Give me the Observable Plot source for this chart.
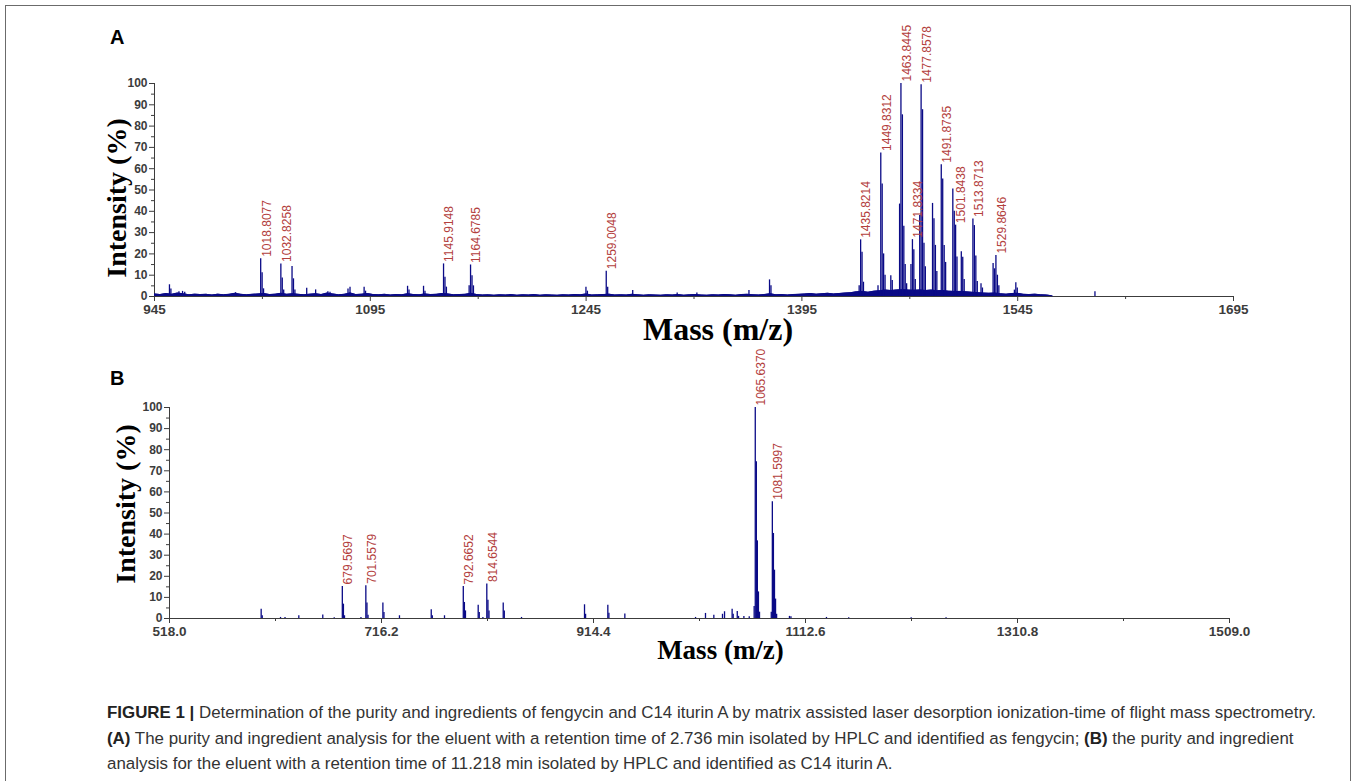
<!DOCTYPE html>
<html>
<head>
<meta charset="utf-8">
<script src="https://cdn.jsdelivr.net/npm/d3@7"></script>
<script src="https://cdn.jsdelivr.net/npm/@observablehq/plot@0.6"></script>
<style>
  html, body { margin: 0; padding: 0; background: #fff; }
  body { width: 1357px; height: 781px; overflow: hidden; position: relative; font-family: "Liberation Sans", Arial, sans-serif; }
  #frame { position: absolute; left: 5px; top: 5px; width: 1346px; height: 820px; border: 1px solid #6b6b6b; box-sizing: border-box; }
  .letter { position: absolute; font-weight: bold; font-size: 20px; color: #000; line-height: 23px; }
  .chart { position: absolute; left: 0; }
  .chart svg { overflow: visible; }
  .chart [aria-label^="x-axis"] text { font-size: 13.5px; }
  #caption { position: absolute; left: 107px; top: 700px; font-size: 16.9px; line-height: 25.5px; color: #333; white-space: nowrap; }
  #caption b { color: #222; }
</style>
</head>
<body>
<div id="frame"></div>
<div id="chartA" class="chart" style="top:0px"></div>
<div id="chartB" class="chart" style="top:345px"></div>
<div class="letter" style="left:110px;top:26px">A</div>
<div class="letter" style="left:110px;top:367px">B</div>
<div id="caption"><b>FIGURE 1 |</b> Determination of the purity and ingredients of fengycin and C14 iturin A by matrix assisted laser desorption ionization-time of flight mass spectrometry.<br><b>(A)</b> The purity and ingredient analysis for the eluent with a retention time of 2.736 min isolated by HPLC and identified as fengycin; <b>(B)</b> the purity and ingredient<br>analysis for the eluent with a retention time of 11.218 min isolated by HPLC and identified as C14 iturin A.</div>
<script>
// ---------------- DATA ----------------
const yTicks = [0, 10, 20, 30, 40, 50, 60, 70, 80, 90, 100];
const yMinorTicks = [5, 15, 25, 35, 45, 55, 65, 75, 85, 95];

// Panel A (fengycin)
const xDomainA = [945, 1695];
const xTicksA = [945, 1095, 1245, 1395, 1545, 1695];
const xMinorA = [1020, 1170, 1320, 1470, 1620];
const labelsA = ["1018.8077", "1032.8258", "1145.9148", "1164.6785", "1259.0048", "1435.8214", "1449.8312",
  "1463.8445", "1471.8334", "1477.8578", "1491.8735", "1501.8438", "1513.8713", "1529.8646"];
// [m/z, relative intensity %]
const peaksA = [
  [955.4, 5.5], [956.4, 3.5], [962, 2.2], [964.5, 2.4], [966, 2.0], [1001.4, 1.8],
  [1018.81, 17.7], [1019.8, 11.1], [1020.8, 3.6],
  [1032.83, 15.3], [1033.8, 8.7], [1034.8, 3.0],
  [1040.6, 14.1], [1041.6, 8.3], [1042.6, 3.0],
  [1050.8, 3.9], [1057.0, 3.1], [1065.5, 2.2], [1067, 2.0],
  [1079.5, 3.5], [1080.9, 4.4], [1090.7, 4.4], [1091.7, 2.5],
  [1120.9, 4.8], [1121.9, 3.0], [1132, 4.8], [1133, 2.5],
  [1145.91, 15.3], [1146.9, 9.0], [1147.9, 4.4],
  [1163.7, 5.0], [1164.68, 14.8], [1165.7, 9.8], [1166.7, 5.0],
  [1244.9, 4.4], [1245.9, 2.5],
  [1259.00, 11.9], [1260.0, 4.4],
  [1277.4, 2.8], [1308.3, 1.6], [1322, 1.6], [1358.2, 2.8],
  [1372.5, 7.8], [1373.5, 5.0],
  [1434.8, 5.0], [1435.82, 26.6], [1436.8, 20.8], [1437.8, 6.7],
  [1447.9, 5.0], [1449.83, 67.4], [1450.8, 52.8], [1451.8, 20.0], [1452.8, 10.0],
  [1456.8, 9.8], [1457.8, 7.5],
  [1462.9, 43.4], [1463.84, 100], [1464.85, 85.3], [1465.85, 33.0], [1466.8, 15.0], [1467.8, 6.0],
  [1470.8, 15.0], [1471.83, 26.7], [1472.8, 22.0], [1473.8, 8.0],
  [1476.9, 38.0], [1477.86, 99.4], [1478.86, 87.7], [1479.86, 25.0], [1480.8, 14.0],
  [1485.8, 43.7], [1486.8, 36.5], [1487.8, 24.0], [1488.8, 11.7],
  [1491.87, 61.9], [1492.87, 55.2], [1493.9, 24.0], [1494.9, 16.0],
  [1499.9, 50.5], [1500.9, 40.0], [1501.84, 33.5], [1502.8, 18.5],
  [1505.8, 21.0], [1506.8, 18.4], [1507.8, 8.0],
  [1513.87, 36.4], [1514.87, 33.3], [1515.9, 19.0], [1516.9, 7.0],
  [1519.5, 6.0], [1520.5, 4.0],
  [1527.9, 15.5], [1528.9, 13.0], [1529.86, 19.2], [1530.9, 10.0], [1531.9, 5.0],
  [1542.7, 3.0], [1543.7, 6.4], [1544.7, 4.0],
  [1598.7, 2.2]
];
// baseline noise of the spectrum [m/z, %]
const noiseA = [
  [945, 1.2], [949, 0.9], [953, 1.4], [957, 1.0], [961, 1.6], [965, 1.3], [969, 0.8], [973, 1.1], [977, 0.9],
  [981, 1.0], [985, 0.7], [989, 1.1], [993, 0.8], [997, 1.0], [1001, 1.5], [1005, 1.0], [1009, 0.8], [1013, 1.0],
  [1017, 1.2], [1021, 1.4], [1025, 0.9], [1029, 1.1], [1033, 1.5], [1037, 1.0], [1041, 1.3], [1045, 1.0], [1049, 0.8],
  [1053, 1.1], [1057, 1.3], [1061, 0.9], [1065, 1.6], [1069, 1.2], [1073, 0.8], [1077, 1.0], [1081, 1.7], [1085, 0.9],
  [1089, 1.1], [1093, 1.4], [1097, 0.9], [1101, 0.8], [1105, 1.0], [1109, 0.7], [1113, 0.9], [1117, 0.8], [1121, 1.3],
  [1125, 0.9], [1129, 0.8], [1133, 1.2], [1137, 0.9], [1141, 1.0], [1145, 1.4], [1149, 1.2], [1153, 0.8], [1157, 0.9],
  [1161, 1.0], [1165, 1.5], [1169, 0.9], [1173, 0.7], [1177, 0.8], [1181, 0.6], [1185, 0.8], [1189, 0.7], [1193, 0.9],
  [1197, 0.6], [1201, 0.8], [1205, 0.7], [1209, 0.9], [1213, 0.6], [1217, 0.8], [1221, 0.7], [1225, 0.6], [1229, 0.8],
  [1233, 0.7], [1237, 0.9], [1241, 0.8], [1245, 1.2], [1249, 0.7], [1253, 0.8], [1257, 0.9], [1261, 1.1], [1265, 0.7],
  [1269, 0.8], [1273, 0.7], [1277, 1.0], [1281, 0.8], [1285, 0.6], [1289, 0.8], [1293, 0.7], [1297, 0.6], [1301, 0.8],
  [1305, 0.7], [1309, 0.9], [1313, 0.6], [1317, 0.8], [1321, 0.9], [1325, 0.7], [1329, 0.6], [1333, 0.8], [1337, 0.7],
  [1341, 0.9], [1345, 0.8], [1349, 0.6], [1353, 0.9], [1357, 1.0], [1361, 0.8], [1365, 0.7], [1369, 0.9], [1373, 1.3],
  [1377, 0.8], [1381, 0.9], [1385, 0.7], [1389, 0.9], [1393, 1.0], [1397, 1.2], [1401, 1.4], [1405, 1.1], [1409, 1.3],
  [1413, 1.5], [1417, 1.2], [1421, 1.4], [1425, 1.6], [1429, 1.8], [1433, 2.2], [1437, 2.4], [1441, 2.0], [1445, 2.5],
  [1449, 2.7], [1453, 3.0], [1457, 2.8], [1461, 3.1], [1465, 3.2], [1469, 3.0], [1473, 2.9], [1477, 3.1], [1481, 2.8],
  [1485, 3.0], [1489, 2.7], [1493, 2.8], [1497, 2.5], [1501, 2.4], [1505, 2.4], [1509, 2.2], [1513, 2.0], [1517, 1.8],
  [1521, 1.6], [1525, 1.5], [1529, 1.6], [1533, 1.3], [1537, 1.1], [1541, 1.4], [1545, 1.5], [1549, 1.0], [1553, 0.9],
  [1557, 1.1], [1561, 0.8], [1565, 0.7], [1569, 0.3]
];

// Panel B (C14 iturin A)
const xDomainB = [518.0, 1509.0];
const xTicksB = [518.0, 716.2, 914.4, 1112.6, 1310.8, 1509.0];
const xMinorB = [617.1, 815.3, 1013.5, 1211.7, 1409.9];
const labelsB = ["679.5697", "701.5579", "792.6652", "814.6544", "1065.6370", "1081.5997"];
const peaksB = [
  [603.7, 4.4], [604.7, 1.3], [621.8, 0.5], [626, 0.5], [638.9, 1.3], [661.3, 1.7], [672, 0.3],
  [679.57, 15.2], [680.6, 6.8], [681.6, 1.3],
  [697, 0.5], [701.56, 15.5], [702.6, 7.3], [703.6, 1.5],
  [717.5, 7.3], [718.5, 2.8], [733, 1.3], [762.7, 4.1], [763.7, 1.3], [775.1, 1.3],
  [792.67, 15.2], [793.7, 7.6], [794.7, 3.6],
  [806.6, 6.3], [807.6, 2.8], [811, 0.5],
  [814.65, 16.3], [815.7, 8.7], [816.7, 3.6],
  [830, 7.3], [831, 3.6], [847.1, 0.5],
  [906, 6.5], [907, 2.0], [927.8, 6.3], [928.8, 2.5], [943.7, 2.1],
  [1009.8, 0.5], [1019.1, 2.4], [1026.9, 1.5], [1035, 2.0], [1036.9, 3.2], [1044, 4.4], [1045, 2.0],
  [1048.8, 3.3], [1050, 1.0], [1055, 1.0], [1060, 0.8],
  [1064.6, 5.7], [1065.64, 100], [1066.64, 74.3], [1067.6, 36.8], [1068.6, 12.6], [1069.6, 3.0],
  [1080.6, 3.0], [1081.6, 55.3], [1082.6, 40.3], [1083.6, 22.9], [1084.6, 9.2], [1085.6, 2.0],
  [1097.6, 1.0], [1099, 0.8], [1132.2, 0.5], [1153, 0.3], [1211.4, 0.3], [1244, 0.3]
];
const noiseB = [];

// ---------------- DRAW ----------------
const navy = "#0a0a86";
const axisColor = "#3c3c3c";
const labelColor = "#b3403d";

function labelRows(labels, peaks) {
  return labels.map(t => {
    const m = +t;
    let best = peaks[0];
    for (const p of peaks) if (Math.abs(p[0] - m) < Math.abs(best[0] - m)) best = p;
    return {x: m, y: best[1], text: t};
  });
}

function panel(o) {
  return Plot.plot({
    width: 1357,
    height: o.height,
    marginLeft: o.ml, marginRight: o.mr, marginTop: o.mt, marginBottom: o.mb,
    style: {fontFamily: '"Liberation Sans", Arial, sans-serif', fontSize: "12px", fontWeight: "bold", color: axisColor, background: "transparent", overflow: "visible"},
    x: {domain: o.xDomain, ticks: o.xTicks, tickFormat: o.fmt, tickSize: 5, tickPadding: 3, line: true, label: null},
    y: {domain: [0, 100], ticks: yTicks, tickSize: 5, tickPadding: 2, line: true, label: null},
    marks: [
      o.noise.length ? Plot.areaY(o.noise, {x: d => d[0], y: d => d[1], fill: navy}) : null,
      o.noise.length ? Plot.lineY(o.noise, {x: d => d[0], y: d => d[1], stroke: navy, strokeWidth: 1}) : null,
      Plot.ruleX(o.peaks, {x: d => d[0], y1: 0, y2: d => d[1], stroke: navy, strokeWidth: 1.3}),
      Plot.ruleX(o.xMinor, {x: d => d, y1: 0, y2: 0, insetTop: 0, insetBottom: -3, stroke: axisColor}),
      Plot.ruleY(yMinorTicks, {y: d => d, x1: o.xDomain[0], x2: o.xDomain[0], insetLeft: -3, insetRight: 0, stroke: axisColor}),
      Plot.text(labelRows(o.labels, o.peaks), {x: "x", y: "y", text: "text", rotate: -90, textAnchor: "start", dx: 6, dy: -2,
        fill: labelColor, fontWeight: "normal", fontSize: 12, fontFamily: '"Liberation Sans", Arial, sans-serif'}),
      Plot.text(["Intensity (%)"], {text: d => d, frameAnchor: "left", textAnchor: "middle", lineAnchor: "middle", rotate: -90, dx: o.ydx, dy: o.ydy,
        fontFamily: '"Liberation Serif", "Times New Roman", serif', fontSize: 28, fontWeight: "bold", fill: "#000"}),
      Plot.text(["Mass (m/z)"], {text: d => d, frameAnchor: "bottom", textAnchor: "middle", lineAnchor: "middle", dx: o.xdx, dy: o.xdy,
        fontFamily: '"Liberation Serif", "Times New Roman", serif', fontSize: o.xls, fontWeight: "bold", fill: "#000"})
    ]
  });
}

document.getElementById("chartA").append(panel({
  height: 345, ml: 154, mr: 124, mt: 83, mb: 49,
  xDomain: xDomainA, xTicks: xTicksA, xMinor: xMinorA, fmt: d3.format("d"),
  peaks: peaksA, noise: noiseA, labels: labelsA,
  ydx: -37, ydy: 8, xdx: 24, xdy: 33, xls: 32
}));
document.getElementById("chartB").append(panel({
  height: 330, ml: 169, mr: 128, mt: 62, mb: 57,
  xDomain: xDomainB, xTicks: xTicksB, xMinor: xMinorB, fmt: d3.format(".1f"),
  peaks: peaksB, noise: noiseB, labels: labelsB,
  ydx: -43, ydy: -9, xdx: 21, xdy: 32, xls: 27
}));
</script>
</body>
</html>
